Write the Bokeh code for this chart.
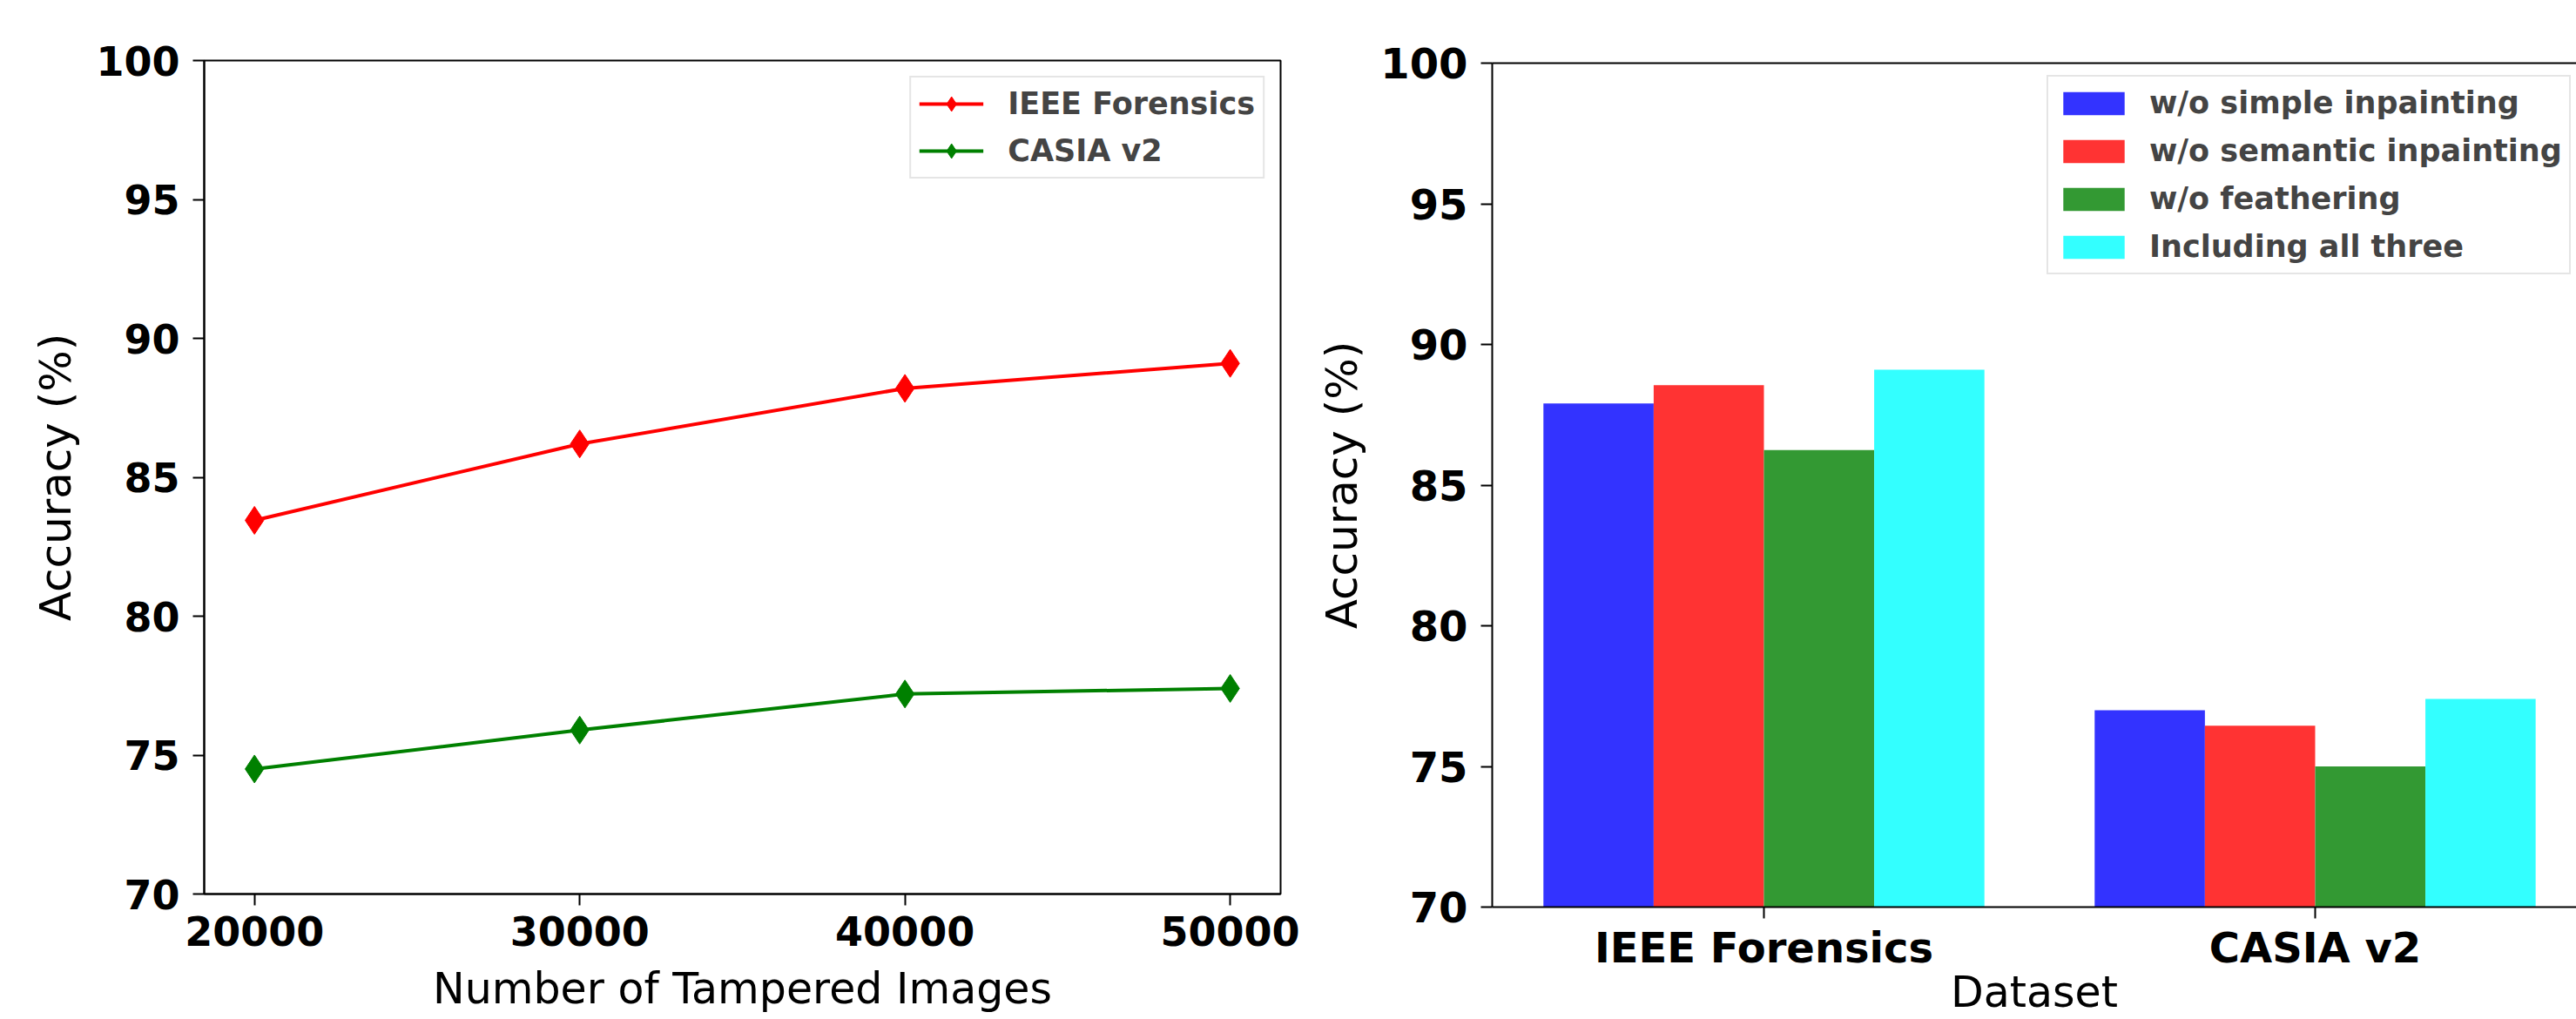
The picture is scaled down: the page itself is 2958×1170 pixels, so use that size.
import numpy as np
from bokeh.plotting import figure
from bokeh.layouts import row
from bokeh.models import Range1d, FixedTicker, LinearAxis, ColumnDataSource
from bokeh.transform import dodge
from bokeh.embed import file_html
from bokeh.resources import INLINE

# ---------------- data ----------------
num_images = [20000, 30000, 40000, 50000]
acc_ieee = [83.45, 86.2, 88.2, 89.1]
acc_casia = [74.5, 75.9, 77.2, 77.4]
y_ticks = [70, 75, 80, 85, 90, 95, 100]

datasets = ["IEEE Forensics", "CASIA v2"]
wo_simple = [87.9, 77.0]
wo_semantic = [88.55, 76.45]
wo_feather = [86.25, 75.0]
all_three = [89.1, 77.4]
bar_labels = ["w/o simple inpainting", "w/o semantic inpainting",
              "w/o feathering", "Including all three"]
bar_colors = ["#3333ff", "#ff3333", "#339933", "#33ffff"]

FONT = "DejaVu Sans"


def style_axis(ax, tick_size, label_size, standoff, label_standoff):
    ax.major_label_text_font = FONT
    ax.major_label_text_font_style = "bold"
    ax.major_label_text_font_size = tick_size
    ax.major_label_text_color = "black"
    ax.major_label_standoff = standoff
    ax.axis_label_text_font = FONT
    ax.axis_label_text_font_style = "normal"
    ax.axis_label_text_font_size = label_size
    ax.axis_label_text_color = "black"
    ax.axis_label_standoff = label_standoff
    ax.major_tick_out = 13
    ax.major_tick_in = 0
    ax.major_tick_line_width = 2
    ax.major_tick_line_color = "black"
    ax.minor_tick_line_color = None
    ax.axis_line_width = 2
    ax.axis_line_color = "black"


# ---------------- left: line chart ----------------
p1 = figure(width=1505, height=1170,
            x_range=Range1d(18455, 51550), y_range=Range1d(70, 100),
            output_backend="svg", toolbar_location=None,
            min_border_left=234, min_border_right=35,
            min_border_top=69, min_border_bottom=144)
p1.frame_align = False
p1.xgrid.visible = False
p1.ygrid.visible = False
p1.outline_line_color = "black"
p1.outline_line_width = 2
p1.outline_line_alpha = 1

p1.line(num_images, acc_ieee, line_color="#ff0000", line_width=4,
        legend_label="IEEE Forensics")
p1.scatter(num_images, acc_ieee, marker="diamond", size=32,
           fill_color="#ff0000", line_color="#ff0000",
           legend_label="IEEE Forensics")
p1.line(num_images, acc_casia, line_color="#008000", line_width=4,
        legend_label="CASIA v2")
p1.scatter(num_images, acc_casia, marker="diamond", size=32,
           fill_color="#008000", line_color="#008000",
           legend_label="CASIA v2")

p1.xaxis.ticker = FixedTicker(ticks=num_images)
p1.yaxis.ticker = FixedTicker(ticks=y_ticks)
p1.xaxis.axis_label = "Number of Tampered Images"
p1.yaxis.axis_label = "Accuracy (%)"
style_axis(p1.xaxis[0], "46px", "49px", 12, 18)
style_axis(p1.yaxis[0], "46px", "50px", 15, 14)

lg1 = p1.legend[0]
lg1.location = "top_right"
lg1.margin = 18
lg1.padding = 9
lg1.spacing = 12
lg1.glyph_width = 74
lg1.glyph_height = 42
lg1.label_height = 42
lg1.label_standoff = 28
lg1.label_text_font = FONT
lg1.label_text_font_style = "bold"
lg1.label_text_font_size = "35px"
lg1.border_line_color = "#cccccc"
lg1.border_line_width = 2
lg1.background_fill_alpha = 0.8

# ---------------- right: grouped bars ----------------
pos = list(range(len(datasets)))
src = ColumnDataSource(dict(pos=pos, s0=wo_simple, s1=wo_semantic,
                            s2=wo_feather, s3=all_three))
bar_w = 0.2
p2 = figure(width=1453, height=1170,
            x_range=Range1d(-0.4929, 1.474), y_range=Range1d(70, 100),
            output_backend="svg", toolbar_location=None,
            min_border_left=208, min_border_right=0,
            min_border_top=72, min_border_bottom=129)
p2.frame_align = False
p2.xgrid.visible = False
p2.ygrid.visible = False
p2.outline_line_color = None

for i, (col, lab, colr) in enumerate(zip(["s0", "s1", "s2", "s3"], bar_labels, bar_colors)):
    off = (i - 1.5) * bar_w
    p2.vbar(x=dodge("pos", off), top=col, bottom=70, width=bar_w, source=src,
            fill_color=colr, line_color=None, legend_label=lab)

p2.xaxis.ticker = FixedTicker(ticks=pos)
p2.xaxis.major_label_overrides = {i: d for i, d in enumerate(datasets)}
p2.xaxis.axis_label = "Dataset"
p2.yaxis.ticker = FixedTicker(ticks=y_ticks)
p2.yaxis.axis_label = "Accuracy (%)"
style_axis(p2.xaxis[0], "48px", "49px", 5, -8)
style_axis(p2.yaxis[0], "48px", "50px", 15, 12)

top_ax = LinearAxis(ticker=FixedTicker(ticks=[]), axis_line_width=2,
                    axis_line_color="black", major_tick_line_color=None,
                    minor_tick_line_color=None, major_label_text_font_size="0px")
p2.add_layout(top_ax, "above")

lg2 = p2.legend[0]
lg2.location = (637, 726)
lg2.margin = 0
lg2.padding = 8
lg2.spacing = 11
lg2.glyph_width = 88
lg2.glyph_height = 33
lg2.label_height = 44
lg2.label_standoff = 20
lg2.label_text_font = FONT
lg2.label_text_font_style = "bold"
lg2.label_text_font_size = "35px"
lg2.border_line_color = "#cccccc"
lg2.border_line_width = 2
lg2.background_fill_alpha = 0.8

layout = row(p1, p2)
open("out.html", "w").write(file_html(layout, INLINE))
